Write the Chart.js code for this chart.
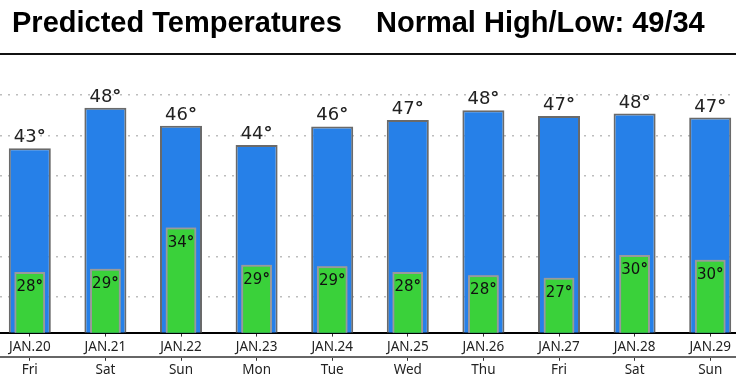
<!DOCTYPE html>
<html><head><meta charset="utf-8">
<script src="https://cdn.jsdelivr.net/npm/chart.js@4.4.1/dist/chart.umd.min.js"></script>
<style>
html,body{margin:0;padding:0;width:736px;height:376px;overflow:hidden;background:#fff;position:relative}
#wrap{position:absolute;left:-8px;top:0;width:756px;height:379px;z-index:1}
.t{position:absolute;top:8px;font:bold 29px "Liberation Sans",Arial,sans-serif;line-height:29px;color:#000;white-space:nowrap;z-index:3}
#rule{position:absolute;left:0;top:53px;width:736px;height:2px;background:#111;z-index:2}
</style></head><body>
<div class="t" style="left:12px">Predicted Temperatures</div>
<div class="t" style="left:376px">Normal High/Low: 49/34</div>
<div id="rule"></div>
<div id="wrap"><canvas id="c" width="756" height="379"></canvas></div>
<script>
const dates = ['JAN.20','JAN.21','JAN.22','JAN.23','JAN.24','JAN.25','JAN.26','JAN.27','JAN.28','JAN.29'];
const days = ['Fri','Sat','Sun','Mon','Tue','Wed','Thu','Fri','Sat','Sun'];
const highs = [43.4,48.4,46.2,43.8,46.1,46.9,48.1,47.4,47.7,47.2];
const lows = [28.1,28.5,33.6,29.0,28.8,28.1,27.7,27.4,30.2,29.6];
const yTicks = [25,30,35,40,45,50];
const yMin = 20.6, yMax = 55;

function drawDeg(c, n, x, y, size, color){
  c.save();
  c.fillStyle = color; c.textBaseline = 'alphabetic'; c.textAlign = 'left';
  const f1 = size + 'px "DejaVu Sans"', f2 = 'bold ' + size + 'px "DejaVu Sans"';
  const s = String(n);
  c.font = f1; const w1 = c.measureText(s).width;
  c.font = f2; const w2 = c.measureText('°').width;
  const x0 = x - (w1 + w2) / 2;
  c.font = f1; c.fillText(s, x0, y);
  c.font = f2; c.fillText('°', x0 + w1, y);
  c.restore();
}

const valuePlugin = {
  id: 'vals',
  afterDraw(chart){
    const c = chart.ctx, a = chart.chartArea;
    const lo = chart.getDatasetMeta(0), hi = chart.getDatasetMeta(1);
    c.save();
    c.beginPath();
    c.rect(a.left, a.top, a.right - a.left, a.bottom - a.top);
    c.clip();
    lo.controller.draw();
    c.restore();
    hi.data.forEach((bar, i) => drawDeg(c, Math.round(highs[i]), bar.x, bar.y - 6, 18, '#222'));
    lo.data.forEach((bar, i) => drawDeg(c, Math.round(lows[i]), bar.x, bar.y + 19, 15, '#111'));
  }
};

const tickFont = {family: '"Noto Sans"', size: 13.5};

new Chart(document.getElementById('c'), {
  type: 'bar',
  data: {
    labels: dates,
    datasets: [
      {label: 'Low', data: lows, backgroundColor: '#3ad13a', borderColor: '#9a9a9a', borderWidth: 2,
       barPercentage: 0.405, categoryPercentage: 1, grouped: false, order: 0},
      {label: 'High', data: highs, backgroundColor: '#2680e8', borderColor: '#6a6a6a', borderWidth: 2,
       barPercentage: 0.556, categoryPercentage: 1, grouped: false, order: 1}
    ]
  },
  options: {
    responsive: false,
    animation: false,
    devicePixelRatio: 1,
    layout: {padding: {top: 54.5, left: 0, right: 0, bottom: 0}},
    plugins: {legend: {display: false}, tooltip: {enabled: false}, title: {display: false}},
    scales: {
      x: {
        position: 'bottom', offset: true,
        grid: {offset: false, drawOnChartArea: false, tickLength: 4, color: '#333', lineWidth: 1},
        border: {display: true, color: '#000', width: 2},
        ticks: {padding: 2, color: '#222', font: tickFont, maxRotation: 0, autoSkip: false}
      },
      x2: {
        type: 'category', labels: days, position: 'bottom', offset: true,
        grid: {offset: false, drawOnChartArea: false, tickLength: 4, color: '#333', lineWidth: 1},
        border: {display: true, color: '#666', width: 2},
        ticks: {padding: 1, color: '#222', font: tickFont, maxRotation: 0, autoSkip: false}
      },
      y: {
        min: yMin, max: yMax, z: 1,
        afterBuildTicks: s => { s.ticks = yTicks.map(v => ({value: v})); },
        ticks: {display: false},
        grid: {color: '#bdbdbd', lineWidth: 1.5, drawTicks: false},
        border: {display: false, dash: [2, 6]}
      }
    }
  },
  plugins: [valuePlugin]
});
</script>
</body></html>
